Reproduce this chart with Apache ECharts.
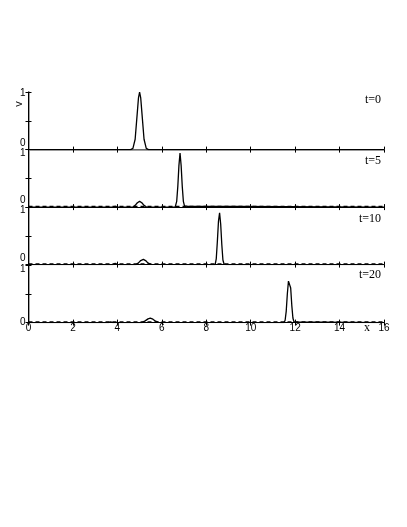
<!DOCTYPE html>
<html>
<head>
<meta charset="utf-8">
<script src="https://cdn.jsdelivr.net/npm/echarts/dist/echarts.min.js"></script>
<style>
  html, body { margin: 0; padding: 0; background: #fff; }
  #chart { width: 407px; height: 527px; }
</style>
</head>
<body>
<div id="chart"></div>
<script>
// time labels of the four panels
var timeLabels = ["t=0", "t=5", "t=10", "t=20"];
var xTicks = [0, 2, 4, 6, 8, 10, 12, 14, 16];

// t=0
var x0 = [0, 4.6, 4.7, 4.8, 4.9, 4.95, 5.0, 5.05, 5.1, 5.2, 5.3, 5.4, 16];
var v0 = [0, 0, 0.02, 0.18, 0.66, 0.9, 1.0, 0.9, 0.66, 0.18, 0.02, 0, 0];
// t=5
var x5 = [0, 3.8, 3.9, 4.0, 4.7, 4.8, 4.9, 5.0, 5.1, 5.2, 5.3, 6.5, 6.55, 6.6, 6.67, 6.72, 6.77, 6.82, 6.87, 6.92, 6.97, 7.02, 7.1, 7.15, 7.2, 16];
var v5 = [0, 0, 0.015, 0, 0, 0.03, 0.075, 0.1, 0.075, 0.03, 0.005, 0, 0.015, 0, 0.1, 0.36, 0.72, 0.94, 0.72, 0.36, 0.1, 0.02, 0, 0.015, 0, 0];
// t=10
var x10 = [0, 3.8, 3.9, 4.0, 4.85, 4.95, 5.05, 5.17, 5.27, 5.37, 5.5, 8.3, 8.35, 8.4, 8.45, 8.5, 8.55, 8.6, 8.65, 8.7, 8.75, 8.8, 8.9, 16];
var v10 = [0, 0, 0.02, 0, 0, 0.03, 0.07, 0.09, 0.07, 0.03, 0.005, 0, 0.03, 0, 0.1, 0.4, 0.75, 0.9, 0.7, 0.35, 0.08, 0.01, 0, 0];
// t=20
var x20 = [0, 3.6, 3.7, 3.8, 5.1, 5.25, 5.38, 5.48, 5.6, 5.72, 5.85, 11.5, 11.55, 11.6, 11.65, 11.7, 11.75, 11.8, 11.85, 11.9, 11.95, 12.0, 16];
var v20 = [0, 0, 0.012, 0, 0, 0.03, 0.065, 0.077, 0.06, 0.025, 0.005, 0, 0.04, 0.2, 0.5, 0.72, 0.74, 0.6, 0.3, 0.08, 0.01, 0, 0];
// dashed companion curve, almost flat on the baseline
var xDash = [0, 16];
var vDash = [0.012, 0.012];

var panelX = [x0, x5, x10, x20];
var panelV = [v0, v5, v10, v20];

var chart = echarts.init(document.getElementById("chart"));

var gridTops = [92, 149.5, 207, 265];
var gridH = 57.6;
// label shifts (px) for "0" (up) and "1" (down) in each panel
var zeroUp = [6, 7, 6, 0];
var oneDown = [1, 3.5, 3, 4];
var labelFont = "Liberation Sans";

var grids = [], xAxes = [], yAxes = [], series = [];

function pairs(xs, vs) {
  return xs.map(function (x, i) { return [x, vs[i]]; });
}

for (var i = 0; i < 4; i++) {
  grids.push({ left: 28.5, right: 23, top: gridTops[i], height: gridH });
  var last = i === 3;
  // bottom x axis
  xAxes.push({
    type: "value", gridIndex: i, min: 0, max: 16, interval: 2,
    axisLine: { lineStyle: { color: "#000", width: 1 } },
    axisTick: { show: true, inside: true, length: 3, lineStyle: { color: "#000" } },
    axisLabel: {
      show: last, margin: 1, fontSize: 10, color: "#000", fontFamily: labelFont,
      formatter: function (v) { return xTicks.indexOf(v) >= 0 ? String(v) : ""; }
    },
    splitLine: { show: false }
  });
  // top x axis (ticks only)
  xAxes.push({
    type: "value", gridIndex: i, position: "top", min: 0, max: 16, interval: 2,
    axisLine: { lineStyle: { color: i === 0 ? "#888" : "#000", width: i === 0 ? 1.6 : 1 } },
    axisTick: { show: true, inside: true, length: 3, lineStyle: { color: "#000" } },
    axisLabel: { show: false },
    splitLine: { show: false }
  });
  // left y axis
  (function (up, down) {
    yAxes.push({
      type: "value", gridIndex: i, min: 0, max: 1, interval: 0.5,
      axisLine: { show: true, lineStyle: { color: "#888", width: 1.6 } },
      axisTick: { show: true, inside: true, length: 3, lineStyle: { color: "#000" } },
      axisLabel: {
        margin: 3, fontSize: 10, color: "#000", fontFamily: labelFont,
        formatter: function (v) {
          if (v === 0) return "{lo|0}";
          if (v === 1) return "{hi|1}";
          return "";
        },
        rich: {
          lo: { fontSize: 10, color: "#000", fontFamily: labelFont, padding: [0, 0, 2 * up, 0] },
          hi: { fontSize: 10, color: "#000", fontFamily: labelFont, padding: [2 * down, 0, 0, 0] }
        }
      },
      splitLine: { show: false }
    });
  })(zeroUp[i], oneDown[i]);
  // right y axis (ticks only)
  yAxes.push({
    type: "value", gridIndex: i, position: "right", min: 0, max: 1, interval: 0.5,
    axisLine: { show: true, lineStyle: { color: "#000", width: 1 } },
    axisTick: { show: true, inside: true, length: 3, lineStyle: { color: "#000" } },
    axisLabel: { show: false },
    splitLine: { show: false }
  });

  series.push({
    type: "line", xAxisIndex: 2 * i, yAxisIndex: 2 * i,
    data: pairs(panelX[i], panelV[i]),
    symbol: "none", smooth: false, z: 5,
    lineStyle: { color: "#000", width: 1.3 }
  });
  if (i > 0) {
    series.push({
      type: "line", xAxisIndex: 2 * i, yAxisIndex: 2 * i,
      data: pairs(xDash, vDash),
      symbol: "none", z: 4,
      lineStyle: { color: "#000", width: 1.2, type: [4, 3] }
    });
  }
}

var labelY = [100, 160.5, 219, 274.5];
var graphics = timeLabels.map(function (t, i) {
  return {
    type: "text", x: 381, y: labelY[i],
    style: {
      text: t, font: "12px 'Liberation Serif'", fill: "#000",
      textAlign: "right", textVerticalAlign: "middle", align: "right", verticalAlign: "middle"
    }
  };
});
graphics.push({
  type: "text", x: 19, y: 104, rotation: Math.PI / 2,
  style: {
    text: "v", font: "11px 'Liberation Sans'", fill: "#000",
    textAlign: "center", textVerticalAlign: "middle", align: "center", verticalAlign: "middle"
  }
});
graphics.push({
  type: "text", x: 367, y: 328,
  style: {
    text: "x", font: "12px 'Liberation Serif'", fill: "#000",
    textAlign: "center", textVerticalAlign: "middle", align: "center", verticalAlign: "middle"
  }
});

chart.setOption({
  animation: false,
  backgroundColor: "#fff",
  grid: grids,
  xAxis: xAxes,
  yAxis: yAxes,
  series: series,
  graphic: graphics
});
</script>
</body>
</html>
